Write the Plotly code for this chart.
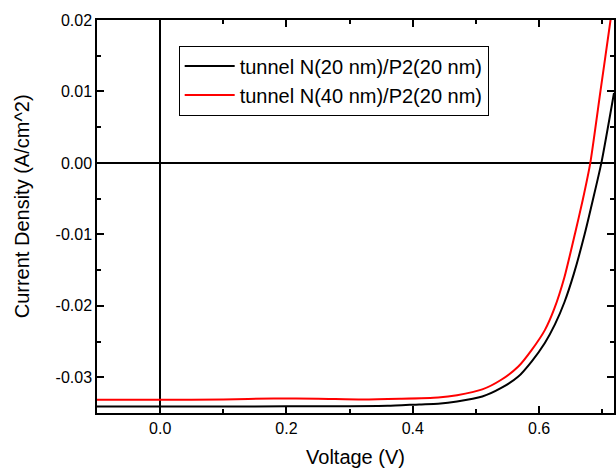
import plotly.graph_objects as go

# Voltage (V) and current density (A/cm^2)
v_black = [-0.1, 0.0, 0.1, 0.2, 0.3, 0.36, 0.41, 0.44, 0.47, 0.51, 0.54, 0.567, 0.588,
           0.609, 0.625, 0.64, 0.655, 0.672, 0.685, 0.6985, 0.7185]
j_black = [-0.0341, -0.0341, -0.0341, -0.03405, -0.03405, -0.034, -0.0338, -0.0337, -0.0334,
           -0.0327, -0.0315, -0.0299, -0.0278, -0.0252, -0.0226, -0.0195, -0.0155, -0.0100,
           -0.0052, 0.0, 0.0098]

v_red = [-0.1, 0.0, 0.1, 0.18, 0.25, 0.32, 0.38, 0.44, 0.47, 0.51, 0.54, 0.567, 0.588,
         0.609, 0.624, 0.64, 0.657, 0.669, 0.681, 0.697, 0.713, 0.72]
j_red = [-0.03315, -0.03315, -0.0331, -0.03297, -0.033, -0.0331, -0.033, -0.03282, -0.0325,
         -0.0317, -0.03035, -0.0285, -0.0262, -0.0234, -0.0204, -0.0160, -0.0098, -0.0052,
         0.0, 0.01, 0.02, 0.0245]

names = ["tunnel N(20 nm)/P2(20 nm)", "tunnel N(40 nm)/P2(20 nm)"]

x_ticks = [0.0, 0.2, 0.4, 0.6]
y_ticks = [0.02, 0.01, 0.0, -0.01, -0.02, -0.03]

x_title = "Voltage (V)"
y_title = "Current Density (A/cm^2)"

FONT = "Liberation Sans, Arial, sans-serif"

fig = go.Figure()
fig.add_trace(go.Scatter(x=v_black, y=j_black, mode="lines", name=names[0],
                         line=dict(color="black", width=2, shape="spline", smoothing=0.6)))
fig.add_trace(go.Scatter(x=v_red, y=j_red, mode="lines", name=names[1],
                         line=dict(color="red", width=2, shape="spline", smoothing=0.6)))

fig.update_layout(
    width=616, height=468,
    margin=dict(l=97, r=0, t=20, b=55),
    paper_bgcolor="white", plot_bgcolor="white",
    font=dict(family=FONT, color="black", size=16),
    showlegend=True,
    legend=dict(x=0.158, y=0.935, xanchor="left", yanchor="top",
                bordercolor="black", borderwidth=1, bgcolor="white",
                font=dict(size=20, family=FONT), tracegroupgap=0,
                itemwidth=50),
    annotations=[dict(text=y_title, xref="paper", yref="paper", x=-0.1445, y=0.5267,
                      xanchor="center", yanchor="middle", textangle=-90, showarrow=False,
                      font=dict(size=20, family=FONT, color="black"))],
)

fig.update_xaxes(
    range=[-0.1, 0.7185], tickvals=x_ticks, ticktext=[f"{t:.1f}" for t in x_ticks],
    ticks="inside", ticklen=7, tickwidth=1.5, tickcolor="black",
    showline=True, linecolor="black", linewidth=1.5, mirror="ticks",
    showgrid=False, zeroline=True, zerolinecolor="black", zerolinewidth=1.5,
    minor=dict(dtick=0.1, tick0=0, ticks="inside", ticklen=4, tickwidth=1.5, tickcolor="black"),
    title=dict(text=x_title, font=dict(size=20, family=FONT), standoff=15),
    tickfont=dict(size=16, family=FONT),
)
fig.update_yaxes(
    range=[-0.035, 0.02], tickvals=y_ticks, ticktext=[f"{t:.2f}" for t in y_ticks],
    ticks="inside", ticklen=7, tickwidth=1.5, tickcolor="black",
    showline=True, linecolor="black", linewidth=1.5, mirror="ticks",
    showgrid=False, zeroline=True, zerolinecolor="black", zerolinewidth=1.5,
    minor=dict(dtick=0.005, tick0=0, ticks="inside", ticklen=4, tickwidth=1.5, tickcolor="black"),
    tickfont=dict(size=16, family=FONT),
)

fig.write_html("out.html")
